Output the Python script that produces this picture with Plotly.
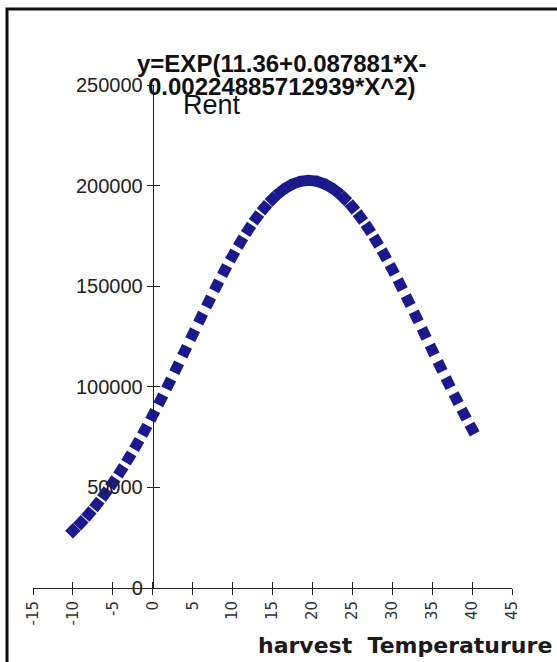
import math
import plotly.graph_objects as go

# Data (harvest temperature vs Rent)
temperature = list(range(-10, 41))
rent = [28462, 32433, 36792, 41550, 46713, 52281, 58251, 64611, 71344, 78425,
        85821, 93494, 101395, 109471, 117661, 125897, 134102, 142201, 150113, 157755,
        165042, 171890, 178218, 183950, 189015, 193348, 196893, 199602, 201441, 202385,
        202420, 201547, 199777, 197135, 193654, 189381, 184370, 178688, 172403, 165593,
        158337, 150720, 142826, 134738, 126539, 118304, 110108, 102021, 94103, 86410,
        78991]
x_ticks = [-15, -10, -5, 0, 5, 10, 15, 20, 25, 30, 35, 40, 45]
y_ticks = [0, 50000, 100000, 150000, 200000, 250000]

title_line1 = "y=EXP(11.36+0.087881*X-"
title_line2 = "0.00224885712939*X^2)"
y_label = "Rent"
x_label = "harvest  Temperaturure"

W, H = 557, 662
L, R, T, B = 33, 45, 85, 74
PW, PH = W - L - R, H - T - B
X_RANGE = [-15, 45]
Y_RANGE = [0, 250000]


def px(x):
    return (x - L) / PW


def py(y):
    return (H - B - y) / PH


# rotate each square marker along the local direction of the curve (screen space)
sx = PW / (X_RANGE[1] - X_RANGE[0])
sy = PH / (Y_RANGE[1] - Y_RANGE[0])
angles = []
n = len(temperature)
for i in range(n):
    a, b = max(i - 1, 0), min(i + 1, n - 1)
    dx = (temperature[b] - temperature[a]) * sx
    dy = -(rent[b] - rent[a]) * sy
    angles.append(math.degrees(math.atan2(dy, dx)))

fig = go.Figure()
fig.add_trace(go.Scatter(
    x=temperature, y=rent, mode="markers",
    marker=dict(symbol="square", size=11, color="#1b1a8c", angle=angles,
                line=dict(width=0)),
    showlegend=False, hoverinfo="x+y",
))

axis_font_y = dict(family="Liberation Sans, Arial", size=20, color="#222")
axis_font_x = dict(family="DejaVu Sans", size=15, color="#333")

fig.update_layout(
    width=W, height=H,
    margin=dict(l=L, r=R, t=T, b=B),
    paper_bgcolor="white", plot_bgcolor="rgba(0,0,0,0)",
    xaxis=dict(range=X_RANGE, tickvals=x_ticks, ticktext=[str(v) for v in x_ticks],
               showgrid=False, zeroline=False, showline=True, linecolor="#222", linewidth=1,
               ticks="outside", ticklen=6, tickcolor="#222", tickwidth=1,
               tickangle=-90, tickfont=axis_font_x, anchor="y"),
    yaxis=dict(range=Y_RANGE, tickvals=y_ticks, ticktext=[str(v) for v in y_ticks],
               showgrid=False, zeroline=False, showline=True, linecolor="#222", linewidth=1,
               ticks="outside", ticklen=6, tickcolor="#222", tickwidth=1,
               tickfont=axis_font_y, anchor="free", position=0.25),
    xaxis2=dict(range=X_RANGE, tickvals=x_ticks, overlaying="x", anchor="y",
                showgrid=False, zeroline=False, showline=False, showticklabels=False,
                ticks="inside", ticklen=6, tickcolor="#222", tickwidth=1),
    yaxis2=dict(range=Y_RANGE, tickvals=y_ticks, overlaying="y", anchor="free",
                position=0.25, showgrid=False, zeroline=False, showline=False,
                showticklabels=False, ticks="inside", ticklen=6, tickcolor="#222",
                tickwidth=1),
)

fig.add_trace(go.Scatter(x=temperature, y=rent, xaxis="x2", yaxis="y2", mode="markers",
                         marker=dict(opacity=0), showlegend=False, hoverinfo="skip"))

title_font = dict(family="Liberation Sans, Arial", size=24, color="#111")
fig.add_annotation(text="<b>" + title_line1 + "</b>", x=px(282), y=py(63), xref="paper",
                   yref="paper", xanchor="center", yanchor="middle", showarrow=False,
                   font=title_font)
fig.add_annotation(text="<b>" + title_line2 + "</b>", x=px(146), y=py(86), xref="paper",
                   yref="paper", xanchor="left", yanchor="middle", showarrow=False,
                   font=title_font)
fig.add_annotation(text=y_label, x=px(181), y=py(105), xref="paper", yref="paper",
                   xanchor="left", yanchor="middle", showarrow=False,
                   font=dict(family="Liberation Sans, Arial", size=27, color="#111"))
fig.add_annotation(text="<b>" + x_label + "</b>", x=px(554), y=py(645), xref="paper",
                   yref="paper", xanchor="right", yanchor="middle", showarrow=False,
                   font=dict(family="DejaVu Sans", size=22, color="#1a1a1a"))

# outer frame (open to the right and bottom, as in the picture)
fig.add_shape(type="rect", xref="paper", yref="paper", x0=px(7), x1=px(620),
              y0=py(720), y1=py(9), line=dict(color="#111", width=3),
              fillcolor="rgba(0,0,0,0)", layer="above")

fig.write_html("out.html", config={"displayModeBar": False},
               post_script="document.body.style.margin='0';document.body.style.overflow='hidden';")
